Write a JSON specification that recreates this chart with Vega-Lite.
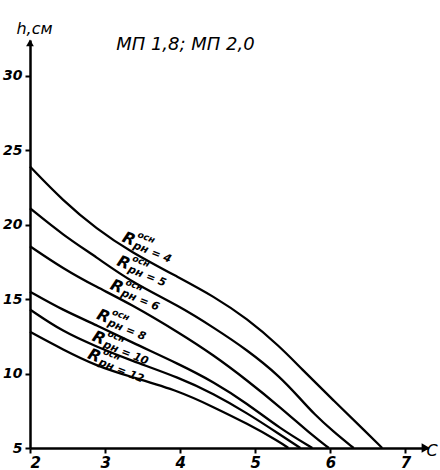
{
  "$schema": "https://vega.github.io/schema/vega-lite/v6.json",
  "width": 398,
  "height": 408,
  "autosize": {"type": "none"},
  "padding": {"left": 30, "top": 40, "right": 12, "bottom": 22},
  "background": "white",
  "config": {
    "view": {"stroke": null},
    "font": "DejaVu Sans",
    "axis": {
      "grid": false,
      "domainColor": "black",
      "domainWidth": 2.5,
      "tickColor": "black",
      "tickWidth": 2,
      "tickSize": 5,
      "labelColor": "black",
      "labelFont": "DejaVu Sans",
      "labelFontStyle": "italic",
      "labelFontWeight": "bold",
      "labelFontSize": 14,
      "titleColor": "black",
      "titleFont": "DejaVu Sans",
      "titleFontStyle": "italic",
      "titleFontWeight": "normal"
    }
  },
  "datasets": {
    "curves": [
      {"R": "4", "c": 2.0, "h": 23.9}, {"R": "4", "c": 2.44, "h": 21.6}, {"R": "4", "c": 2.89, "h": 19.7}, {"R": "4", "c": 3.33, "h": 18.2}, {"R": "4", "c": 4.0, "h": 16.4}, {"R": "4", "c": 4.44, "h": 15.2}, {"R": "4", "c": 4.89, "h": 13.7}, {"R": "4", "c": 5.33, "h": 11.8}, {"R": "4", "c": 5.6, "h": 10.4}, {"R": "4", "c": 6.04, "h": 8.2}, {"R": "4", "c": 6.49, "h": 6.0}, {"R": "4", "c": 6.69, "h": 5.0},
      {"R": "5", "c": 2.0, "h": 21.1}, {"R": "5", "c": 2.44, "h": 19.3}, {"R": "5", "c": 2.89, "h": 17.8}, {"R": "5", "c": 3.33, "h": 16.2}, {"R": "5", "c": 4.0, "h": 14.5}, {"R": "5", "c": 4.44, "h": 13.1}, {"R": "5", "c": 4.89, "h": 11.6}, {"R": "5", "c": 5.33, "h": 9.8}, {"R": "5", "c": 5.6, "h": 8.3}, {"R": "5", "c": 5.78, "h": 7.3}, {"R": "5", "c": 6.04, "h": 6.1}, {"R": "5", "c": 6.31, "h": 5.0},
      {"R": "6", "c": 2.0, "h": 18.55}, {"R": "6", "c": 2.44, "h": 17.05}, {"R": "6", "c": 2.89, "h": 15.8}, {"R": "6", "c": 3.33, "h": 14.7}, {"R": "6", "c": 4.0, "h": 12.7}, {"R": "6", "c": 4.44, "h": 11.25}, {"R": "6", "c": 4.89, "h": 9.55}, {"R": "6", "c": 5.33, "h": 7.75}, {"R": "6", "c": 5.78, "h": 5.75}, {"R": "6", "c": 5.98, "h": 5.0},
      {"R": "8", "c": 2.0, "h": 15.5}, {"R": "8", "c": 2.44, "h": 14.25}, {"R": "8", "c": 2.89, "h": 13.25}, {"R": "8", "c": 3.33, "h": 12.15}, {"R": "8", "c": 4.0, "h": 10.6}, {"R": "8", "c": 4.44, "h": 9.45}, {"R": "8", "c": 4.89, "h": 8.0}, {"R": "8", "c": 5.33, "h": 6.3}, {"R": "8", "c": 5.76, "h": 5.0},
      {"R": "10", "c": 2.0, "h": 14.3}, {"R": "10", "c": 2.44, "h": 12.8}, {"R": "10", "c": 2.89, "h": 11.8}, {"R": "10", "c": 3.33, "h": 10.9}, {"R": "10", "c": 4.0, "h": 9.7}, {"R": "10", "c": 4.44, "h": 8.65}, {"R": "10", "c": 4.89, "h": 7.35}, {"R": "10", "c": 5.33, "h": 5.9}, {"R": "10", "c": 5.6, "h": 5.0},
      {"R": "12", "c": 2.0, "h": 12.8}, {"R": "12", "c": 2.44, "h": 11.6}, {"R": "12", "c": 2.89, "h": 10.5}, {"R": "12", "c": 3.33, "h": 9.8}, {"R": "12", "c": 4.0, "h": 8.8}, {"R": "12", "c": 4.44, "h": 7.75}, {"R": "12", "c": 4.89, "h": 6.65}, {"R": "12", "c": 5.33, "h": 5.4}, {"R": "12", "c": 5.44, "h": 5.0}
    ],
    "labels": [
      {"R": "4", "c": 3.24, "h": 19.2, "sub": "рн = 4"},
      {"R": "5", "c": 3.17, "h": 17.6, "sub": "рн = 5"},
      {"R": "6", "c": 3.08, "h": 16.0, "sub": "рн = 6"},
      {"R": "8", "c": 2.9, "h": 14.0, "sub": "рн = 8"},
      {"R": "10", "c": 2.84, "h": 12.55, "sub": "рн = 10"},
      {"R": "12", "c": 2.78, "h": 11.35, "sub": "рн = 12"}
    ],
    "heading": [{"c": 4.07, "h": 32.05, "t": "МП 1,8; МП 2,0"}],
    "xarrow": [{"c": 7.27, "h": 5}],
    "yarrow": [{"c": 2, "h": 32.2}]
  },
  "encoding": {
    "x": {
      "field": "c", "type": "quantitative",
      "scale": {"domain": [2, 7.3], "nice": false, "zero": false},
      "axis": {
        "values": [2, 3, 4, 5, 6, 7],
        "labelPadding": 2,
        "labelFontSize": 15,
        "title": "C",
        "titleFontSize": 16,
        "titleX": 396,
        "titleY": 2,
        "titleAlign": "left",
        "titleBaseline": "middle",
        "titleAngle": 0
      }
    },
    "y": {
      "field": "h", "type": "quantitative",
      "scale": {"domain": [5, 32.4], "nice": false, "zero": false},
      "axis": {
        "values": [5, 10, 15, 20, 25, 30],
        "labelPadding": 3,
        "title": "h,см",
        "titleFontSize": 16,
        "titleAngle": 0,
        "titleX": 4,
        "titleY": -12,
        "titleAlign": "center",
        "titleBaseline": "middle"
      }
    }
  },
  "layer": [
    {
      "data": {"name": "curves"},
      "mark": {"type": "line", "interpolate": "basis", "strokeWidth": 2.3, "color": "black"},
      "encoding": {"detail": {"field": "R", "type": "nominal"}}
    },
    {
      "data": {"name": "labels"},
      "mark": {"type": "text", "angle": 22, "align": "left", "baseline": "middle", "fontSize": 16, "fontStyle": "italic", "fontWeight": "bold", "color": "black"},
      "encoding": {"text": {"value": "R"}}
    },
    {
      "data": {"name": "labels"},
      "mark": {"type": "text", "angle": 22, "align": "left", "baseline": "middle", "fontSize": 9, "fontStyle": "italic", "fontWeight": "bold", "dx": 13, "dy": -8, "color": "black"},
      "encoding": {"text": {"value": "осн"}}
    },
    {
      "data": {"name": "labels"},
      "mark": {"type": "text", "angle": 22, "align": "left", "baseline": "middle", "fontSize": 11, "fontStyle": "italic", "fontWeight": "bold", "dx": 13, "dy": 4, "color": "black"},
      "encoding": {"text": {"field": "sub", "type": "nominal"}}
    },
    {
      "data": {"name": "heading"},
      "mark": {"type": "text", "align": "center", "baseline": "middle", "fontSize": 18, "fontStyle": "italic", "color": "black"},
      "encoding": {"text": {"field": "t", "type": "nominal"}}
    },
    {
      "data": {"name": "xarrow"},
      "mark": {"type": "point", "shape": "triangle-right", "filled": true, "size": 90, "color": "black", "opacity": 1},
      "encoding": {}
    },
    {
      "data": {"name": "yarrow"},
      "mark": {"type": "point", "shape": "triangle-up", "filled": true, "size": 60, "color": "black", "opacity": 1},
      "encoding": {}
    }
  ]
}
